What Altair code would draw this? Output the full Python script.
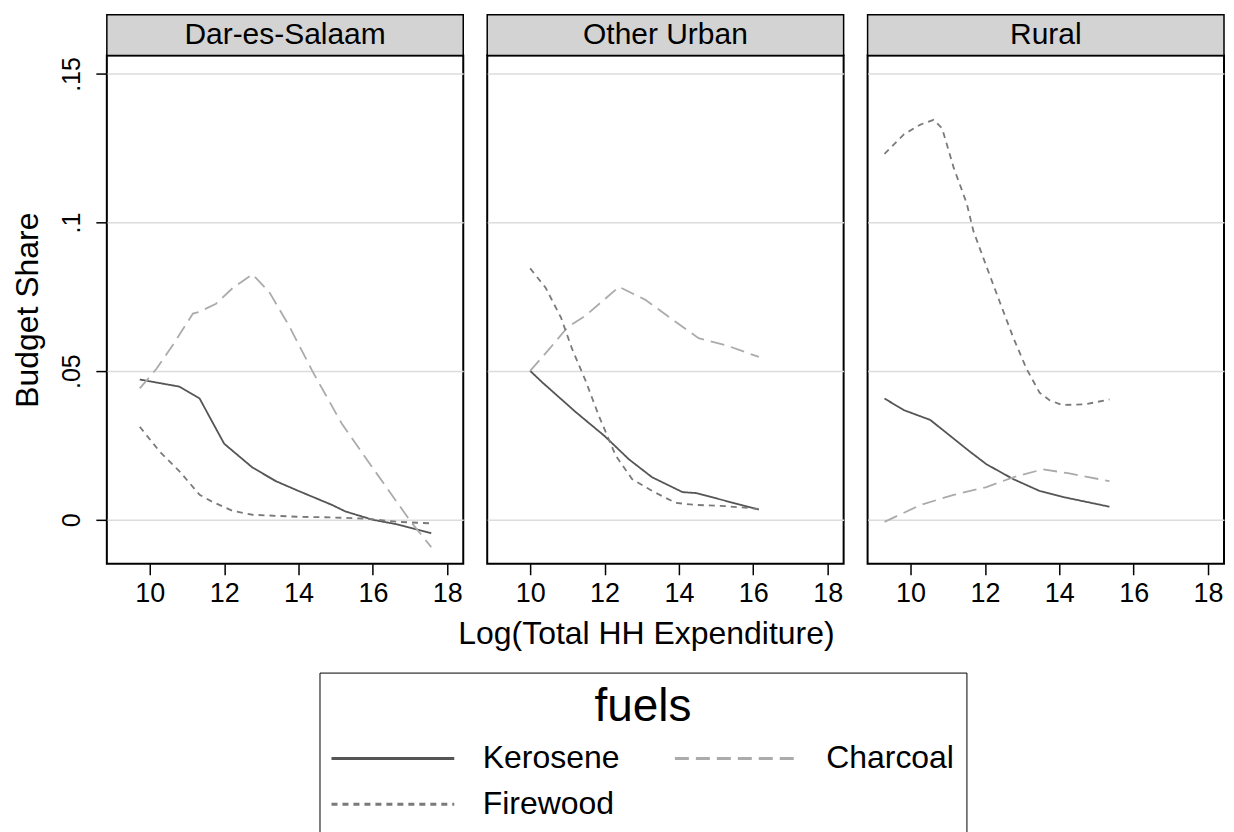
import altair as alt
import pandas as pd

regions = ["Dar-es-Salaam", "Other Urban", "Rural"]
fuels = ["Kerosene", "Charcoal", "Firewood"]

# Dar-es-Salaam
dsm_ker_x = [9.73, 10.8, 11.34, 12.0, 12.76, 13.39, 14.0, 14.9, 15.26, 16.0, 16.68, 17.57]
dsm_ker_y = [0.0472, 0.0448, 0.0408, 0.0256, 0.0176, 0.0130, 0.0097, 0.005, 0.0028, 0.0, -0.0016, -0.0045]
dsm_cha_x = [9.73, 10.18, 10.62, 11.16, 11.34, 11.78, 12.23, 12.76, 13.21, 13.74, 14.37, 15.17, 16.06, 17.04, 17.57]
dsm_cha_y = [0.0442, 0.0508, 0.0588, 0.0694, 0.070, 0.0727, 0.078, 0.0826, 0.0767, 0.0654, 0.0501, 0.0322, 0.0163, -0.001, -0.0092]
dsm_fir_x = [9.73, 10.27, 10.8, 11.34, 11.69, 12.23, 12.76, 14.0, 14.9, 15.8, 16.68, 17.57]
dsm_fir_y = [0.0313, 0.0229, 0.0163, 0.0084, 0.006, 0.003, 0.0017, 0.001, 0.0008, 0.0004, -0.0007, -0.0012]

# Other Urban
ou_ker_x = [10.0, 10.33, 11.23, 12.0, 12.66, 13.28, 14.1, 14.45, 15.25, 16.15]
ou_ker_y = [0.0501, 0.0462, 0.0362, 0.0282, 0.0203, 0.0143, 0.0093, 0.009, 0.0064, 0.0034]
ou_cha_x = [10.0, 10.51, 11.0, 11.49, 12.39, 13.1, 13.9, 14.53, 15.25, 16.15]
ou_cha_y = [0.0501, 0.0574, 0.0647, 0.0687, 0.0784, 0.074, 0.0667, 0.0611, 0.0588, 0.0548]
ou_fir_x = [10.0, 10.42, 10.83, 11.13, 11.49, 11.85, 12.3, 12.74, 13.28, 13.91, 14.45, 15.25, 16.15]
ou_fir_y = [0.0846, 0.078, 0.068, 0.0574, 0.0468, 0.0349, 0.0216, 0.0137, 0.0097, 0.0057, 0.005, 0.0046, 0.0037]

# Rural
ru_ker_x = [9.3, 9.82, 10.53, 11.07, 11.6, 12.04, 12.76, 13.47, 14.09, 15.35]
ru_ker_y = [0.0408, 0.0369, 0.0336, 0.0282, 0.0229, 0.0187, 0.0137, 0.0097, 0.0077, 0.0044]
ru_cha_x = [9.3, 10.27, 11.16, 12.04, 12.76, 13.56, 14.27, 15.35]
ru_cha_y = [-0.0007, 0.005, 0.0084, 0.011, 0.0143, 0.017, 0.0156, 0.013]
ru_fir_x = [9.3, 9.82, 10.27, 10.62, 10.85, 11.16, 11.51, 11.69, 12.04, 12.4, 12.76, 13.12, 13.47, 13.74, 14.09, 14.72, 15.35]
ru_fir_y = [0.1231, 0.1297, 0.133, 0.1346, 0.1317, 0.1185, 0.1065, 0.0972, 0.0853, 0.0733, 0.0614, 0.0508, 0.0428, 0.0402, 0.0386, 0.0389, 0.0405]

x_ticks = [10, 12, 14, 16, 18]
y_ticks = [0, 0.05, 0.1, 0.15]

series = [
    ("Dar-es-Salaam", "Kerosene", dsm_ker_x, dsm_ker_y),
    ("Dar-es-Salaam", "Charcoal", dsm_cha_x, dsm_cha_y),
    ("Dar-es-Salaam", "Firewood", dsm_fir_x, dsm_fir_y),
    ("Other Urban", "Kerosene", ou_ker_x, ou_ker_y),
    ("Other Urban", "Charcoal", ou_cha_x, ou_cha_y),
    ("Other Urban", "Firewood", ou_fir_x, ou_fir_y),
    ("Rural", "Kerosene", ru_ker_x, ru_ker_y),
    ("Rural", "Charcoal", ru_cha_x, ru_cha_y),
    ("Rural", "Firewood", ru_fir_x, ru_fir_y),
]
rows = []
for reg, fuel, xs, ys in series:
    for xv, yv in zip(xs, ys):
        rows.append({"region": reg, "fuel": fuel, "x": xv, "y": yv})
df = pd.DataFrame(rows)

FONT = "Liberation Sans"
W, H = 357, 509
STRIP = 41

color_scale = alt.Scale(domain=fuels, range=["#555555", "#ababab", "#7a7a7a"])
dash_scale = alt.Scale(domain=fuels, range=[[1, 0], [14, 7], [6, 5]])

legend = alt.Legend(
    title="fuels", orient="none", legendX=213, legendY=618,
    direction="horizontal", columns=2,
    titleFont=FONT, titleFontSize=46, titleFontWeight="normal", titleColor="black",
    titleAnchor="middle", titlePadding=12,
    labelFont=FONT, labelFontSize=32, labelColor="black", labelOffset=74,
    symbolType="M-5,0H5", symbolSize=605, symbolStrokeWidth=3, symbolOffset=45.5,
    rowPadding=14, columnPadding=49, padding=12, strokeColor="black",
)

ylabel_expr = "datum.value == 0 ? '0' : replace(toString(datum.value), '0.', '.')"


def panel(i, region):
    d = df[df.region == region]
    if i == 0:
        yaxis = alt.Axis(values=y_ticks, labelExpr=ylabel_expr, title="Budget Share",
                         labelAngle=270, labelAlign="center", labelBaseline="alphabetic",
                         labelPadding=16, labelFontSize=25, titleFontSize=32, titlePadding=15,
                         tickSize=11)
    else:
        yaxis = alt.Axis(values=y_ticks, labels=False, ticks=False, title=None, domain=False)
    if i == 1:
        xaxis = alt.Axis(values=x_ticks, title="Log(Total HH Expenditure)", titleX=159, titleY=80,
                         titleBaseline="alphabetic", titleAlign="center", titleFontSize=32,
                         labelFontSize=27, labelPadding=6, tickSize=11, labelFlush=False)
    else:
        xaxis = alt.Axis(values=x_ticks, title=None, labelFontSize=27, labelPadding=6,
                         tickSize=11, labelFlush=False)
    lines = alt.Chart(d).mark_line(strokeWidth=1.8).encode(
        x=alt.X("x:Q", scale=alt.Scale(domain=[8.845, 18.43], nice=False, zero=False), axis=xaxis),
        y=alt.Y("y:Q", scale=alt.Scale(domain=[-0.0148, 0.1562], nice=False, zero=False), axis=yaxis),
        color=alt.Color("fuel:N", scale=color_scale, legend=legend),
        strokeDash=alt.StrokeDash("fuel:N", scale=dash_scale, legend=legend),
    )
    sdf = pd.DataFrame({"region": [region]})
    strip = alt.Chart(sdf).mark_rect(fill="#d3d3d3", stroke="black", strokeWidth=1.5).encode(
        x=alt.value(0), x2=alt.value("width"), y=alt.value(-STRIP), y2=alt.value(0))
    label = alt.Chart(sdf).mark_text(font=FONT, fontSize=30, color="black", baseline="middle",
                                     align="center").encode(
        x=alt.value(W / 2), y=alt.value(-STRIP / 2), text="region:N")
    return alt.layer(strip, label, lines).properties(width=W, height=H)


chart = alt.hconcat(*[panel(i, r) for i, r in enumerate(regions)], spacing=24, bounds="flush").resolve_scale(
    color="shared", strokeDash="shared"
).properties(
    padding={"left": 3, "top": 4, "right": 0, "bottom": 0}
).configure_view(
    stroke="black", strokeWidth=2
).configure_axis(
    labelFont=FONT, titleFont=FONT, labelColor="black", titleColor="black",
    titleFontWeight="normal", tickColor="black", tickWidth=1.5, domain=False,
    gridColor="#dcdcdc", gridWidth=1.5
).configure_axisX(
    grid=False
).configure_axisY(
    grid=True
)

chart.save("out.html", embed_options={"renderer": "svg", "actions": False})
